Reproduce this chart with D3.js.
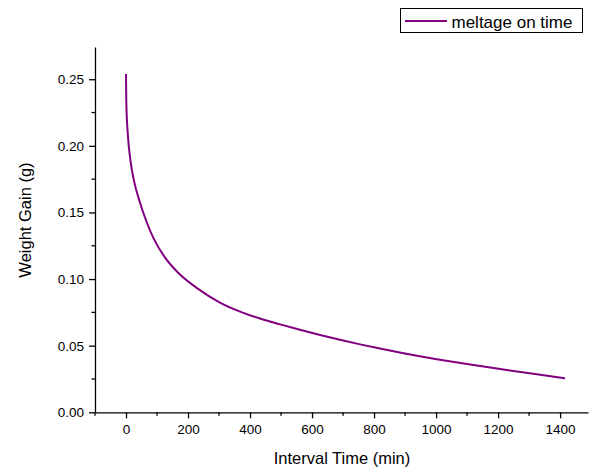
<!DOCTYPE html>
<html>
<head>
<meta charset="utf-8">
<script src="https://cdn.jsdelivr.net/npm/d3@7"></script>
<style>
  body { margin: 0; background: #fff; }
  svg { display: block; font-family: "Liberation Sans", Arial, sans-serif; }
</style>
</head>
<body>
<div id="chart"></div>
<script>
// Data
const timeMin = [0, 1, 6, 15, 26, 45, 65, 89, 126, 169, 228, 303, 368, 432, 497, 561, 626, 690, 755, 819, 895, 1002, 1110, 1217, 1325, 1416];
const weightGain = [0.254, 0.2322, 0.2083, 0.1880, 0.1735, 0.1575, 0.1438, 0.1305, 0.1161, 0.1046, 0.0934, 0.0824, 0.0756, 0.0704, 0.0660, 0.0619, 0.0580, 0.0544, 0.0510, 0.0479, 0.0444, 0.0399, 0.0358, 0.0321, 0.0285, 0.0256];
const xTicks = [0, 200, 400, 600, 800, 1000, 1200, 1400];
const yTicks = [0, 0.05, 0.10, 0.15, 0.20, 0.25];
const seriesName = "meltage on time";

const width = 589, height = 467;
const lineColor = "#800080";

const svg = d3.select("#chart")
  .append("svg")
  .attr("width", width)
  .attr("height", height);

const x = d3.scaleLinear().domain([-100, 1490]).range([95, 588]);
const y = d3.scaleLinear().domain([0, 0.2742]).range([412.3, 47]);

// Minor ticks
const xMinor = d3.range(-100, 1490, 100).filter(v => v % 200 !== 0);
const yMinor = d3.range(0.025, 0.27, 0.05);

// X axis
const xAxis = svg.append("g")
  .attr("transform", `translate(0,${y(0)})`)
  .call(d3.axisBottom(x).tickValues(xTicks).tickSize(6).tickPadding(6).tickFormat(d3.format("d")).tickSizeOuter(0));
xAxis.selectAll(".tick line").attr("stroke-width", 1.3);
xAxis.selectAll("text").attr("font-size", 13.5).attr("fill", "#000");
xAxis.select(".domain").attr("stroke-width", 1.3);
xAxis.selectAll(".minor").data(xMinor).enter()
  .append("line")
  .attr("class", "minor")
  .attr("x1", d => x(d)).attr("x2", d => x(d))
  .attr("y1", 0).attr("y2", 3.5)
  .attr("stroke", "#000").attr("stroke-width", 1.3);

// Y axis
const yAxis = svg.append("g")
  .attr("transform", `translate(${x(-100)},0)`)
  .call(d3.axisLeft(y).tickValues(yTicks).tickSize(6).tickPadding(5).tickFormat(d3.format(".2f")).tickSizeOuter(0));
yAxis.selectAll(".tick line").attr("stroke-width", 1.3);
yAxis.selectAll("text").attr("font-size", 13.5).attr("fill", "#000");
yAxis.select(".domain").attr("stroke-width", 1.3);
yAxis.selectAll(".minor").data(yMinor).enter()
  .append("line")
  .attr("class", "minor")
  .attr("y1", d => y(d)).attr("y2", d => y(d))
  .attr("x1", 0).attr("x2", -3.5)
  .attr("stroke", "#000").attr("stroke-width", 1.3);

// Axis titles
svg.append("text")
  .attr("x", 342)
  .attr("y", 464)
  .attr("text-anchor", "middle")
  .attr("font-size", 16.5)
  .text("Interval Time (min)");

svg.append("text")
  .attr("transform", "translate(31,220) rotate(-90)")
  .attr("text-anchor", "middle")
  .attr("font-size", 16.5)
  .text("Weight Gain (g)");

// Curve
const points = timeMin.map((t, i) => [t, weightGain[i]]);
svg.append("path")
  .datum(points)
  .attr("fill", "none")
  .attr("stroke", lineColor)
  .attr("stroke-width", 2)
  .attr("d", d3.line()
    .x(d => x(d[0]))
    .y(d => y(d[1]))
    .curve(d3.curveMonotoneX));

// Legend
const legend = svg.append("g").attr("class", "legend");
legend.append("rect")
  .attr("x", 400.5).attr("y", 8.5)
  .attr("width", 182).attr("height", 24)
  .attr("fill", "#fff").attr("stroke", "#000").attr("stroke-width", 1);
legend.append("line")
  .attr("x1", 405).attr("x2", 447)
  .attr("y1", 21).attr("y2", 21)
  .attr("stroke", lineColor).attr("stroke-width", 2);
legend.append("text")
  .attr("x", 451.5).attr("y", 27.5)
  .attr("font-size", 17)
  .text(seriesName);
</script>
</body>
</html>
